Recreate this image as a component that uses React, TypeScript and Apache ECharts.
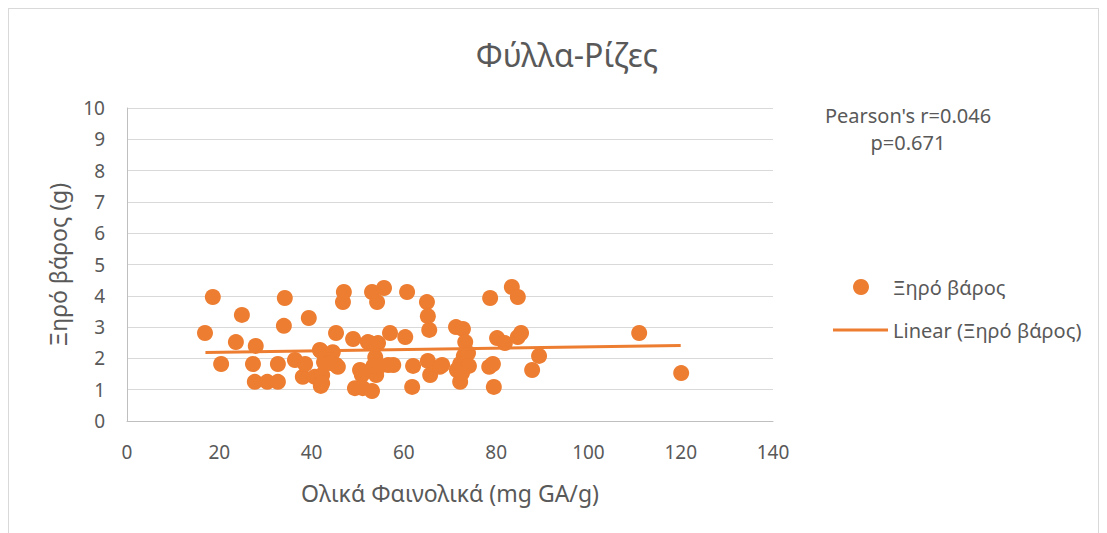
import React, { useEffect, useRef } from "react";
import * as echarts from "echarts";

const chartTitle = "Φύλλα-Ρίζες";
const seriesName = "Ξηρό βάρος";
const trendName = "Linear (Ξηρό βάρος)";
const xAxisName = "Ολικά Φαινολικά (mg GA/g)";
const yAxisName = "Ξηρό βάρος (g)";
const statsLines = ["Pearson's r=0.046", "p=0.671"];

const phenolics = [
  16.9, 18.6, 20.4, 23.6, 24.9, 27.9, 27.3, 27.7, 30.4, 32.7, 32.7, 34.2, 34.0, 36.4, 38.1, 39.4,
  38.6, 40.7, 42.0, 42.0, 42.3, 42.7, 44.6, 45.3, 45.3, 47.0, 46.8, 49.0, 49.4, 50.9, 51.1, 50.5,
  52.2, 53.1, 54.2, 55.7, 53.1, 54.4, 53.8, 54.0, 53.4, 56.6, 57.0, 57.7, 60.7, 60.3, 61.8, 62.0,
  65.0, 65.2, 65.5, 65.2, 65.7, 67.8, 68.3, 71.3, 72.8, 73.3, 73.0, 72.2, 71.5, 72.2, 73.9, 74.1,
  78.7, 80.2, 78.5, 79.3, 79.5, 81.9, 83.4, 84.7, 84.7, 85.4, 87.8, 89.3, 111.0, 120.1, 41.8, 45.7,
  72.6, 42.3, 44.0, 54.8, 52.7,
];
const dryWeight = [
  2.81, 3.96, 1.82, 2.52, 3.39, 2.40, 1.82, 1.25, 1.25, 1.25, 1.82, 3.93, 3.04, 1.95, 1.41, 3.29,
  1.82, 1.41, 2.24, 1.12, 1.47, 1.88, 2.20, 2.81, 1.79, 4.12, 3.80, 2.62, 1.05, 1.47, 1.05, 1.63,
  2.52, 4.12, 3.80, 4.25, 0.96, 2.49, 2.04, 1.47, 1.76, 1.79, 2.81, 1.79, 4.12, 2.68, 1.09, 1.76,
  3.80, 3.35, 2.91, 1.92, 1.47, 1.73, 1.79, 3.00, 2.94, 2.52, 2.08, 1.82, 1.63, 1.25, 2.17, 1.76,
  3.93, 2.65, 1.73, 1.82, 1.09, 2.49, 4.28, 3.96, 2.68, 2.81, 1.63, 2.08, 2.81, 1.53, 2.27, 1.73,
  1.53, 1.21, 1.85, 1.76, 2.49,
];
const trendX = [17, 120];
const trendY = [2.19, 2.41];

const ORANGE = "#ED7D31";
const TEXT = "#595959";
const FONT = "'Noto Sans', 'Open Sans', sans-serif";

export default function App() {
  const ref = useRef<HTMLDivElement>(null);
  useEffect(() => {
    if (!ref.current) return;
    const chart = echarts.init(ref.current, undefined, { renderer: "svg" });
    const points = phenolics.map((x, i) => [x, dryWeight[i]]);
    const trend = trendX.map((x, i) => [x, trendY[i]]);
    chart.setOption({
      animation: false,
      textStyle: { fontFamily: FONT },
      title: {
        text: chartTitle,
        left: 553,
        top: 24,
        textAlign: "center",
        textStyle: { fontFamily: FONT, fontSize: 32, fontWeight: "normal", color: TEXT },
      },
      grid: { left: 118, top: 99, width: 646, height: 313, containLabel: false },
      xAxis: {
        type: "value",
        min: 0,
        max: 140,
        interval: 20,
        name: xAxisName,
        nameLocation: "middle",
        nameGap: 60,
        nameTextStyle: { fontFamily: FONT, fontSize: 23, color: TEXT },
        axisLine: { show: true, lineStyle: { color: "#bfbfbf", width: 1 } },
        axisTick: { show: false },
        axisLabel: { color: TEXT, fontSize: 19, margin: 21, fontFamily: FONT },
        splitLine: { show: false },
      },
      yAxis: {
        type: "value",
        min: 0,
        max: 10,
        interval: 1,
        name: yAxisName,
        nameLocation: "middle",
        nameGap: 58,
        nameTextStyle: { fontFamily: FONT, fontSize: 23, color: TEXT },
        axisLine: { show: true, lineStyle: { color: "#bfbfbf", width: 1 } },
        axisTick: { show: false },
        axisLabel: { color: TEXT, fontSize: 19, margin: 22, fontFamily: FONT },
        splitLine: { show: true, lineStyle: { color: "#d9d9d9", width: 1 } },
      },
      legend: [
        {
          data: [{ name: seriesName, icon: "circle" }],
          left: 844,
          top: 268,
          padding: 0,
          itemWidth: 16,
          itemHeight: 16,
          textStyle: { color: TEXT, fontSize: 20, fontFamily: FONT, padding: [0, 0, 0, 19] },
          selectedMode: false,
        },
        {
          data: [{ name: trendName, icon: "rect" }],
          left: 824,
          top: 311,
          padding: 0,
          itemWidth: 55,
          itemHeight: 3,
          textStyle: { color: TEXT, fontSize: 20, fontFamily: FONT },
          selectedMode: false,
        },
      ],
      graphic: [
        {
          type: "text",
          x: 899,
          y: 96,
          style: {
            text: statsLines[0],
            textAlign: "center",
            fill: TEXT,
            fontSize: 20,
            fontFamily: FONT,
          },
        },
        {
          type: "text",
          x: 899,
          y: 123,
          style: {
            text: statsLines[1],
            textAlign: "center",
            fill: TEXT,
            fontSize: 20,
            fontFamily: FONT,
          },
        },
      ],
      series: [
        {
          name: seriesName,
          type: "scatter",
          data: points,
          symbol: "circle",
          symbolSize: 16,
          itemStyle: { color: ORANGE, opacity: 1 },
        },
        {
          name: trendName,
          type: "line",
          data: trend,
          symbol: "none",
          lineStyle: { color: ORANGE, width: 3 },
          itemStyle: { color: ORANGE },
          z: 3,
        },
      ],
    });
    return () => chart.dispose();
  }, []);
  return (
    <div style={{ width: 1091, height: 526, border: "1px solid #d9d9d9", boxSizing: "border-box", background: "#fff" }}>
      <div ref={ref} style={{ width: 1089, height: 524 }} />
    </div>
  );
}
